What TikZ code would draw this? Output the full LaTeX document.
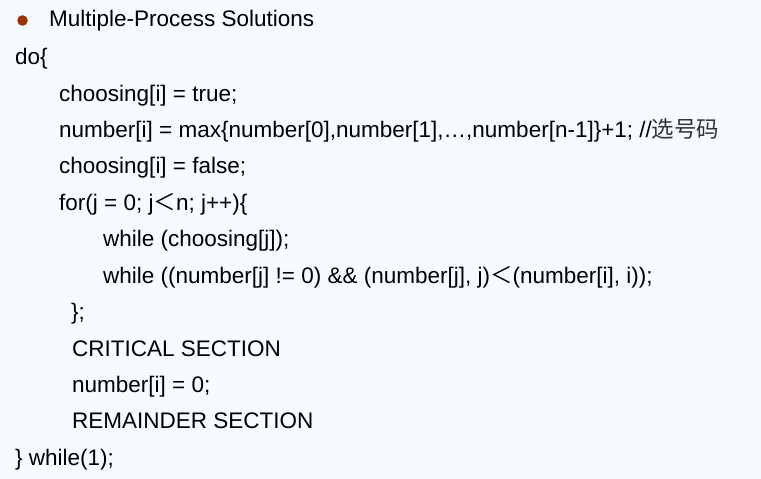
\documentclass[tikz,border=0pt]{standalone}
\usepackage{fontspec}
\setmainfont{Liberation Sans}
\newfontfamily\cjk{Noto Sans CJK SC}
\definecolor{bgblue}{RGB}{245,251,255}
\definecolor{dotbrown}{RGB}{153,51,0}
\newcommand{\jlt}{{\cjk ＜}}

\begin{document}
\begin{tikzpicture}[x=1pt,y=-1pt, every node/.style={anchor=base west,inner sep=0pt,font=\fontsize{22.5}{26}\selectfont}]
	\useasboundingbox[fill=bgblue] (0,0) rectangle (761,479);
	\fill[dotbrown] (22.5,20.5) circle (5.3);
	\node (title) at (49,27) {Multiple-Process Solutions};
	
	\node (do) at (15,64) {do\{};
	\node (chtrue) at (59,101) {choosing[i] = true;};
	\node (num) at (59,137) {number[i] = max\{number[0],number[1],…,number[n-1]\}+1; //{\cjk\color{black!80} 选号码}};
	\node (chfalse) at (59,173) {choosing[i] = false;};
	\node (for) at (59,210) {for(j = 0; j\jlt n; j++)\{};
	\node (wait1) at (103,246) {while (choosing[j]);};
	\node (wait2) at (103,283) {while ((number[j] != 0) \&\& (number[j], j)\jlt(number[i], i));};
	\node (endfor) at (71,319) {\};};
	\node (crit) at (72,356) {CRITICAL SECTION};
	\node (reset) at (72,392) {number[i] = 0;};
	\node (rem) at (72,428) {REMAINDER SECTION};
	\node (while) at (15,465) {\} while(1);};
	
\end{tikzpicture}
\end{document}
